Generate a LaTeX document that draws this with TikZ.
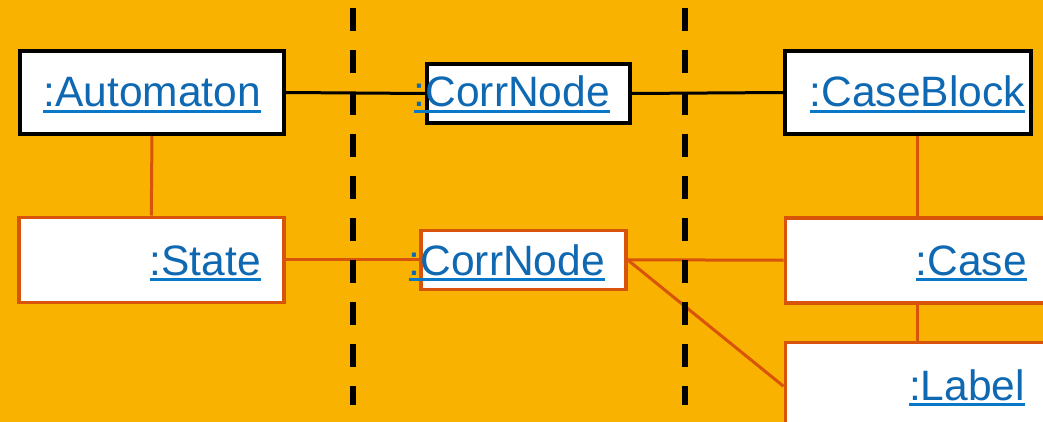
\documentclass[tikz,border=0pt]{standalone}
\usepackage{fontspec}
\setmainfont{Liberation Sans}
\definecolor{bgcol}{HTML}{F9B200}
\definecolor{edgeorange}{HTML}{D9540B}
\definecolor{linkblue}{HTML}{0E68B2}
\definecolor{ulblue}{HTML}{0A78C8}
\begin{document}
\begin{tikzpicture}[x=1pt,y=-1pt,
  objbox/.style={draw, fill=white, rectangle, inner sep=0pt, anchor=north west},
  blackobj/.style={objbox, draw=black, line width=4pt},
  orangeobj/.style={objbox, draw=edgeorange, line width=3.5pt},
  link/.style={font=\fontsize{42.5}{50}\selectfont, text=linkblue, inner sep=0pt, anchor=base east},
  ul/.style={draw=ulblue, line width=3pt},
  blackwire/.style={draw=black, line width=3pt},
  orangewire/.style={draw=edgeorange, line width=3pt},
  divider/.style={draw=black, line width=6pt, dash pattern=on 23pt off 19pt}]
\useasboundingbox (0,0) rectangle (1043,422);
\clip (0,0) rectangle (1043,422);
\fill[bgcol] (0,0) rectangle (1043,422);

% object boxes
\node[blackobj, minimum width=264pt, minimum height=83pt] (auto) at (18,49) {};
\node[orangeobj, minimum width=265pt, minimum height=85pt] (state) at (17,215.5) {};
\node[blackobj, minimum width=203pt, minimum height=59pt] (cn1) at (425,62) {};
\node[orangeobj, minimum width=205pt, minimum height=59pt] (cn2) at (419,228.5) {};
\node[blackobj, minimum width=246pt, minimum height=83pt] (cb) at (783,49) {};
\node[orangeobj, minimum width=300pt, minimum height=85pt] (case) at (783.5,216) {};
\node[orangeobj, minimum width=300pt, minimum height=88pt] (lbl) at (783.5,340.5) {};

% links between the objects
\draw[blackwire] (auto.east) -- (cn1.west);
\draw[blackwire] (cn1.east) -- (cb.west);
\draw[orangewire] (auto.south) -- (state.north);
\draw[orangewire] ([xshift=9pt]cb.south) -- ([xshift=9pt]cb.south |- case.north);
\draw[orangewire] ([xshift=9pt]cb.south |- case.south) -- ([xshift=9pt]cb.south |- lbl.north);
\draw[orangewire] (state.east) -- (cn2.west);
\draw[orangewire] (cn2.east) -- (case.west);
\draw[orangewire] (cn2.east) -- (lbl.west);

% swimlane dividers
\coordinate (d1top) at (353,8);
\coordinate (d1bot) at (353,405);
\coordinate (d2top) at (685,8);
\coordinate (d2bot) at (685,405);
\draw[divider] (d1top) -- (d1bot);
\draw[divider] (d2top) -- (d2bot);

% object names
\node[link] (tAuto) at (261,107) {:Automaton};
\node[link] (tState) at (261,275) {:State};
\node[link] (tCn1) at (610,107) {:CorrNode};
\node[link] (tCn2) at (605,275) {:CorrNode};
\node[link] (tCb) at (1025,107) {:CaseBlock};
\node[link] (tCase) at (1027,275) {:Case};
\node[link] (tLbl) at (1025,400) {:Label};
\foreach \t in {tAuto,tState,tCn1,tCn2,tCb,tCase,tLbl}
  \draw[ul] ([yshift=-4.5pt]\t.base west) -- ([yshift=-4.5pt]\t.base east);
\end{tikzpicture}
\end{document}
